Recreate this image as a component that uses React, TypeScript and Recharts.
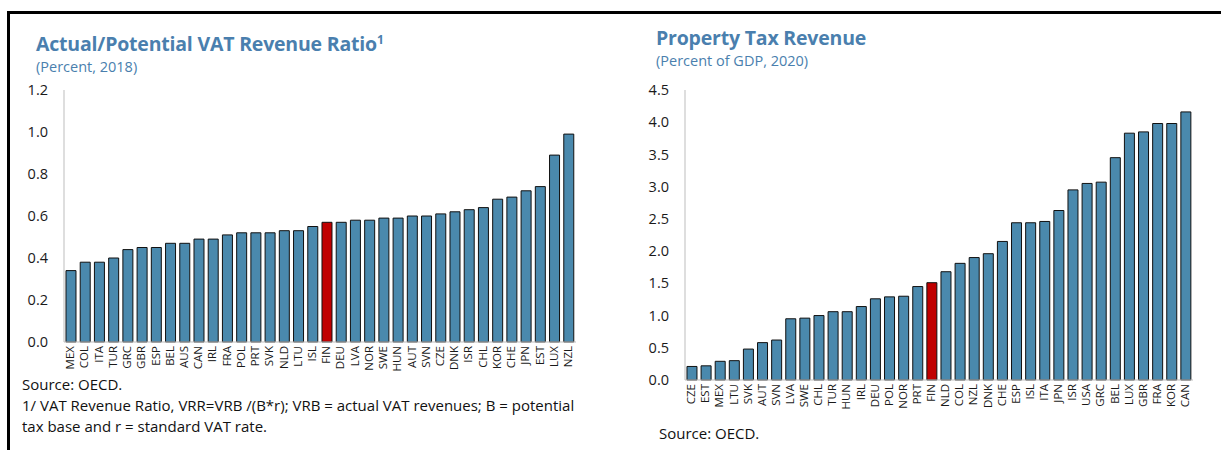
import { BarChart, Bar, XAxis, YAxis, Cell } from 'recharts';

const vatCountries = [
  'MEX', 'COL', 'ITA', 'TUR', 'GRC', 'GBR', 'ESP', 'BEL', 'AUS', 'CAN', 'IRL', 'FRA',
  'POL', 'PRT', 'SVK', 'NLD', 'LTU', 'ISL', 'FIN', 'DEU', 'LVA', 'NOR', 'SWE', 'HUN',
  'AUT', 'SVN', 'CZE', 'DNK', 'ISR', 'CHL', 'KOR', 'CHE', 'JPN', 'EST', 'LUX', 'NZL',
];
const vatRatio = [
  0.34, 0.38, 0.38, 0.4, 0.44, 0.45, 0.45, 0.47, 0.47, 0.49, 0.49, 0.51,
  0.52, 0.52, 0.52, 0.53, 0.53, 0.55, 0.57, 0.57, 0.58, 0.58, 0.59, 0.59,
  0.6, 0.6, 0.61, 0.62, 0.63, 0.64, 0.68, 0.69, 0.72, 0.74, 0.89, 0.99,
];
const vatTicks = [0, 0.2, 0.4, 0.6, 0.8, 1.0, 1.2];

const propCountries = [
  'CZE', 'EST', 'MEX', 'LTU', 'SVK', 'AUT', 'SVN', 'LVA', 'SWE', 'CHL', 'TUR', 'HUN',
  'IRL', 'DEU', 'POL', 'NOR', 'PRT', 'FIN', 'NLD', 'COL', 'NZL', 'DNK', 'CHE', 'ESP',
  'ISL', 'ITA', 'JPN', 'ISR', 'USA', 'GRC', 'BEL', 'LUX', 'GBR', 'FRA', 'KOR', 'CAN',
];
const propRevenue = [
  0.21, 0.22, 0.29, 0.3, 0.48, 0.58, 0.62, 0.95, 0.96, 1.0, 1.06, 1.06,
  1.14, 1.26, 1.29, 1.3, 1.45, 1.51, 1.68, 1.81, 1.9, 1.96, 2.15, 2.44,
  2.44, 2.46, 2.63, 2.95, 3.05, 3.07, 3.45, 3.83, 3.85, 3.98, 3.98, 4.16,
];
const propTicks = [0, 0.5, 1.0, 1.5, 2.0, 2.5, 3.0, 3.5, 4.0, 4.5];

const BLUE = '#4a89ad';
const RED = '#c00000';
const TITLE = '#4a7fae';
const FONT = '"Open Sans", "Noto Sans", sans-serif';
const HIGHLIGHT = 'FIN';

type Row = { name: string; value: number };

function PanelChart({
  data,
  ticks,
  max,
  width,
  height,
  xHeight,
}: {
  data: Row[];
  ticks: number[];
  max: number;
  width: number;
  height: number;
  xHeight: number;
}) {
  return (
    <BarChart
      width={width}
      height={height}
      data={data}
      margin={{ top: 10, right: 4, left: 0, bottom: 0 }}
      barCategoryGap="14%"
    >
      <XAxis
        dataKey="name"
        interval={0}
        height={xHeight}
        axisLine={{ stroke: '#bdbdbd' }}
        tickLine={false}
        tick={{ fontSize: 11.5, fill: '#1a1a1a', angle: -90, textAnchor: 'end', dy: -4, dx: -5 } as any}
        tickMargin={2}
        fontFamily={FONT}
      />
      <XAxis xAxisId="top" orientation="top" dataKey="name" height={0} tick={false} tickLine={false} axisLine={{ stroke: '#d0d0d0' }} />
      <YAxis
        domain={[0, max]}
        ticks={ticks}
        interval={0}
        width={44}
        axisLine={{ stroke: '#bdbdbd' }}
        tickLine={false}
        tickSize={6}
        tickMargin={10}
        tickFormatter={(v: number) => v.toFixed(1)}
        tick={{ fontSize: 14.5, fill: '#1a1a1a' }}
        fontFamily={FONT}
      />
      <YAxis yAxisId="right" orientation="right" width={0} tick={false} tickLine={false} axisLine={{ stroke: '#d0d0d0' }} />
      <Bar dataKey="value" stroke="#111" strokeWidth={1} isAnimationActive={false}>
        {data.map((d) => (
          <Cell key={d.name} fill={d.name === HIGHLIGHT ? RED : BLUE} />
        ))}
      </Bar>
    </BarChart>
  );
}

export default function App() {
  const vatData = vatCountries.map((name, i) => ({ name, value: vatRatio[i] }));
  const propData = propCountries.map((name, i) => ({ name, value: propRevenue[i] }));

  const titleStyle: React.CSSProperties = {
    position: 'absolute',
    fontSize: 19.5,
    fontWeight: 700,
    color: TITLE,
    whiteSpace: 'nowrap',
    letterSpacing: -0.2,
  };
  const subStyle: React.CSSProperties = {
    position: 'absolute',
    fontSize: 14.5,
    color: TITLE,
    whiteSpace: 'nowrap',
  };
  const noteStyle: React.CSSProperties = {
    position: 'absolute',
    fontSize: 15,
    color: '#111',
    lineHeight: '21px',
    whiteSpace: 'nowrap',
  };

  return (
    <div
      style={{
        position: 'fixed',
        left: 0,
        top: 0,
        width: 1221,
        height: 450,
        background: '#fff',
        fontFamily: FONT,
        overflow: 'hidden',
      }}
    >
      <div
        style={{
          position: 'absolute',
          left: 7,
          top: 11,
          width: 1230,
          height: 460,
          borderTop: '3px solid #000',
          borderLeft: '3px solid #000',
        }}
      />

      <div style={{ ...titleStyle, left: 36, top: 30 }}>
        Actual/Potential VAT Revenue Ratio<sup style={{ fontSize: 12 }}>1</sup>
      </div>
      <div style={{ ...subStyle, left: 36, top: 57 }}>(Percent, 2018)</div>
      <div style={{ position: 'absolute', left: 20, top: 80 }}>
        <PanelChart data={vatData} ticks={vatTicks} max={1.2} width={560} height={294} xHeight={32} />
      </div>
      <div style={{ ...noteStyle, left: 22, top: 374 }}>
        Source: OECD.
        <br />
        1/ VAT Revenue Ratio, VRR=VRB /(B*r); VRB = actual VAT revenues; B = potential
        <br />
        tax base and r = standard VAT rate.
      </div>

      <div style={{ ...titleStyle, left: 656, top: 24 }}>Property Tax Revenue</div>
      <div style={{ ...subStyle, left: 656, top: 51 }}>(Percent of GDP, 2020)</div>
      <div style={{ position: 'absolute', left: 641, top: 80 }}>
        <PanelChart data={propData} ticks={propTicks} max={4.5} width={556} height={334} xHeight={34} />
      </div>
      <div style={{ ...noteStyle, left: 659, top: 423 }}>Source: OECD.</div>
    </div>
  );
}
